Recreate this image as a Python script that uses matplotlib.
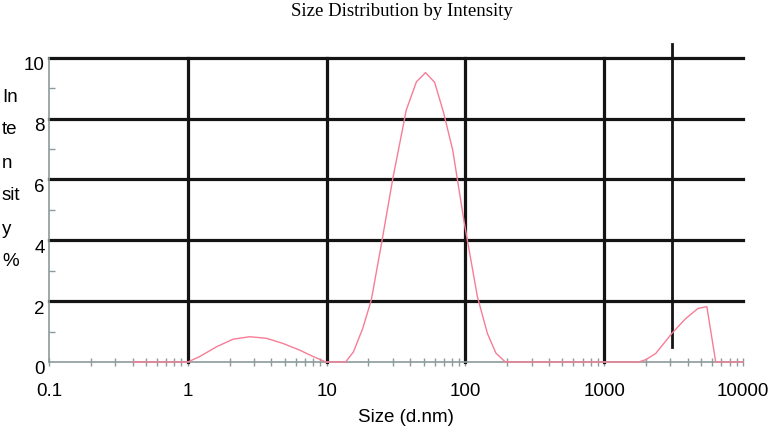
import matplotlib
matplotlib.use("Agg")
import matplotlib.pyplot as plt
import matplotlib.transforms as mtransforms
from matplotlib.ticker import LogLocator, FixedLocator, NullFormatter

# ---- data ----
sizes = [0.4, 0.6, 0.8, 1.0, 1.22, 1.61, 2.12, 2.79, 3.68, 4.85, 6.4, 8.0, 9.9,
         12.4, 13.7, 15.6, 18.2, 21.0, 25.1, 30.0, 37.5, 44.4, 51.6, 60.0, 69.4,
         81.0, 98.3, 122, 144, 166, 194, 500, 1000, 1777, 2000, 2350, 3100,
         3870, 4740, 5490, 6360, 10000]
intensity = [0, 0, 0, 0, 0.18, 0.5, 0.75, 0.83, 0.78, 0.61, 0.39, 0.18, 0,
             0, 0, 0.33, 1.1, 2.04, 4.0, 6.03, 8.28, 9.21, 9.51, 9.19, 8.22,
             6.97, 4.56, 2.15, 0.94, 0.29, 0, 0, 0, 0, 0.08, 0.28, 0.96,
             1.43, 1.76, 1.82, 0, 0]
x_ticks = [0.1, 1, 10, 100, 1000, 10000]
x_tick_labels = ["0.1", "1", "10", "100", "1000", "10000"]
y_ticks = [0, 2, 4, 6, 8, 10]
y_minor = [1, 3, 5, 7, 9]
x_grid = [1, 10, 100, 1000]
y_grid = [2, 4, 6, 8, 10]
marker_x = 3100
marker_y = (0.5, 10.45)

title = "Size Distribution by Intensity"
xlabel = "Size (d.nm)"
ylabel_lines = ["In", "te", "n", "sit", "y", "%"]

W, H = 779, 432
fig = plt.figure(figsize=(W / 100, H / 100), dpi=100)
ax = fig.add_axes([49 / W, 1 - 362 / H, (743 - 49) / W, (362 - 57.7) / H])

sans = ["Liberation Sans", "DejaVu Sans"]
serif = ["Liberation Serif", "DejaVu Serif"]
grey = "#8c9a9a"
pink = "#f77d96"

ax.set_xscale("log")
ax.set_xlim(0.1, 10000)
ax.set_ylim(0, 10)

for g in y_grid:
    ax.axhline(g, color="#141414", lw=2.3, zorder=2, clip_on=False)
for g in x_grid:
    ax.axvline(g, color="#141414", lw=2.3, zorder=2, clip_on=False)

ax.plot([marker_x, marker_x], list(marker_y), color="#141414", lw=2.0,
        zorder=2, clip_on=False)

ax.plot(sizes, intensity, color=pink, lw=1.0, zorder=4, clip_on=False)

for s in ["top", "right"]:
    ax.spines[s].set_visible(False)
for s in ["left", "bottom"]:
    ax.spines[s].set_color(grey)
    ax.spines[s].set_linewidth(1.2)

ax.xaxis.set_major_locator(FixedLocator(x_ticks))
ax.set_xticklabels(x_tick_labels, family=sans, fontsize=13.5)
ax.xaxis.set_minor_locator(LogLocator(base=10, subs=range(2, 10), numticks=20))
ax.xaxis.set_minor_formatter(NullFormatter())
ax.tick_params(axis="x", which="both", direction="inout", color=grey, width=1.0)
ax.tick_params(axis="x", which="minor", length=6)
ax.tick_params(axis="x", which="major", length=6, pad=12)

ax.set_yticks(y_ticks)
ax.set_yticklabels([str(v) for v in y_ticks], family=sans, fontsize=13.5)
ax.yaxis.set_minor_locator(FixedLocator(y_minor))
ax.tick_params(axis="y", which="minor", direction="in", length=4, color=grey, width=1.0)
ax.tick_params(axis="y", which="major", length=0, pad=3)
offset = mtransforms.ScaledTranslation(0, -6 / 100, fig.dpi_scale_trans)
for lab in ax.get_yticklabels():
    lab.set_transform(lab.get_transform() + offset)

fig.text(402 / W, 1 - 11 / H, title, ha="center", va="center",
         family=serif, fontsize=13.5)
fig.text(406 / W, 1 - 417 / H, xlabel, ha="center", va="center",
         family=sans, fontsize=13.5)
for i, t in enumerate(ylabel_lines):
    fig.text(2 / W, 1 - (97 + 33 * i) / H, t, ha="left", va="center",
             family=sans, fontsize=13.5)

fig.savefig("out.png", dpi=100)
